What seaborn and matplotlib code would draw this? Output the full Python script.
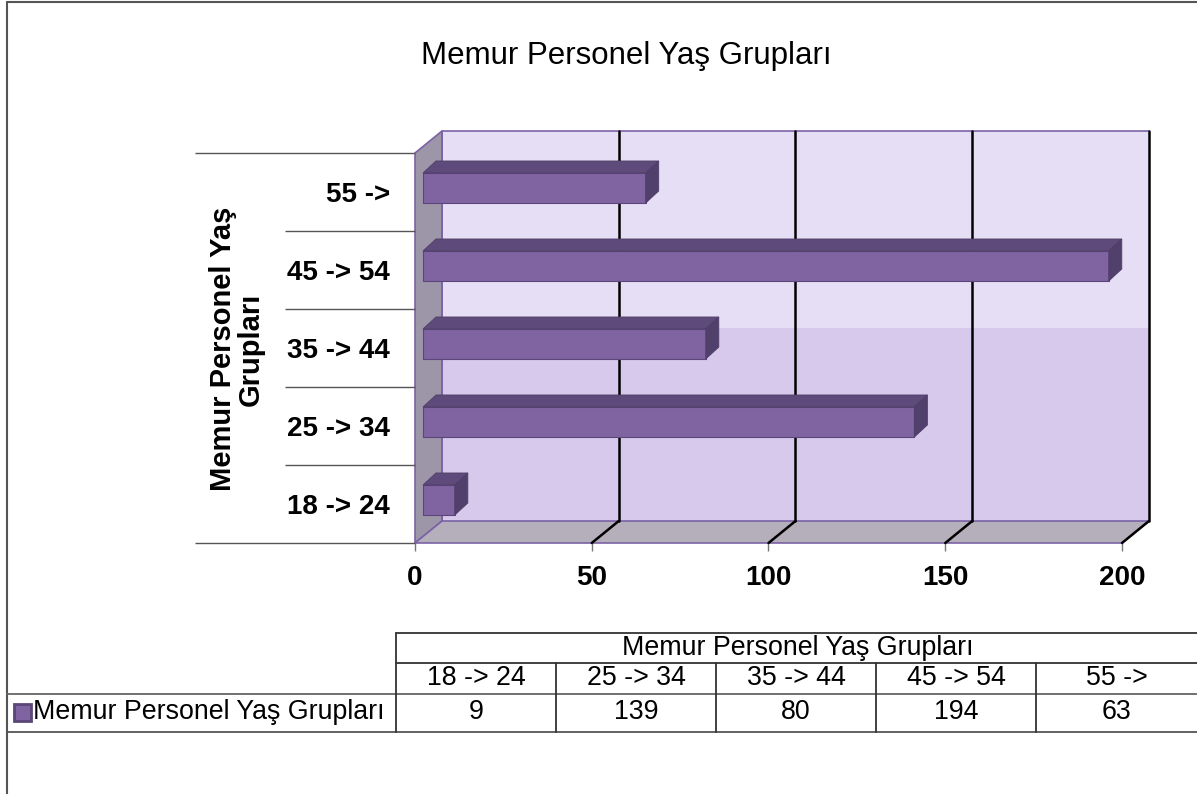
import numpy as np
import pandas as pd
import matplotlib
matplotlib.use("Agg")
import matplotlib.pyplot as plt
from matplotlib.patches import Polygon, Rectangle
from matplotlib.lines import Line2D
import seaborn as sns

## data
groups = ["18 -> 24", "25 -> 34", "35 -> 44", "45 -> 54", "55 ->"]
counts = [9, 139, 80, 194, 63]
series_name = "Memur Personel Yaş Grupları"
x_ticks = [0, 50, 100, 150, 200]

sns.set_style("white")
plt.rcParams["font.family"] = ["Liberation Sans", "DejaVu Sans"]
plt.rcParams["text.color"] = "black"
plt.rcParams["xtick.color"] = "black"
plt.rcParams["ytick.color"] = "black"

W, H = 1197, 794
fig = plt.figure(figsize=(W / 100, H / 100), dpi=100)

def fx(px):
    return px / W

def fy(py):
    return 1 - py / H

## front plane of the 3d box: x 415..1122 px, y 153..543 px
ax = fig.add_axes([fx(415), fy(543), fx(1122) - fx(415), fy(153) - fy(543)])

df = pd.DataFrame({"group": groups, "count": counts})
order = groups[::-1]
sns.barplot(data=df, x="count", y="group", order=order, orient="h",
            width=0.385, color="#8064A2", edgecolor="#5A4678", linewidth=0.8,
            saturation=1, ax=ax, zorder=3)

ax.set_xlim(0, 200)
ax.set_ylim(len(order) - 0.5, -0.5)

## pixel -> data unit helpers
ux = 200 / 707
uy = 1 / 78
DX, DY = 27 * ux, -22 * uy        # depth of the box
ymin, ymax = -0.5, len(order) - 0.5

def poly(pts, fc, ec="none", lw=0, z=0.5):
    ax.add_patch(Polygon(pts, closed=True, facecolor=fc, edgecolor=ec,
                         linewidth=lw, zorder=z, clip_on=False))

## back wall (two shades)
split = 2.02
poly([(DX, ymin + DY), (200 + DX, ymin + DY), (200 + DX, split + DY), (DX, split + DY)], "#E6DEF5")
poly([(DX, split + DY), (200 + DX, split + DY), (200 + DX, ymax + DY), (DX, ymax + DY)], "#D6C9EC")
## left wall
poly([(0, ymax), (0, ymin), (DX, ymin + DY), (DX, ymax + DY)], "#9D95A8", "#7B62A6", 1.2)
## floor
poly([(0, ymax), (200, ymax), (200 + DX, ymax + DY), (DX, ymax + DY)], "#B5AFBC", "#7B62A6", 1.2)
ax.plot([DX, DX, 200 + DX], [ymax + DY, ymin + DY, ymin + DY], color="#7B62A6", lw=1.2,
        zorder=0.6, clip_on=False)

## grid lines on back wall and floor
for t in x_ticks[1:]:
    ax.plot([t + DX, t + DX], [ymin + DY, ymax + DY], color="black", lw=1.8, zorder=0.7, clip_on=False)
    ax.plot([t, t + DX], [ymax, ymax + DY], color="black", lw=1.8, zorder=0.7, clip_on=False)

## 3d look for the bars
bdx, bdy = 8 * ux, -4 * uy
tdx, tdy = 13 * ux, -12 * uy
for p in ax.patches:
    if not isinstance(p, Rectangle):
        continue
    p.set_x(p.get_x() + bdx)
    p.set_y(p.get_y() + bdy)
    x0, x1 = p.get_x(), p.get_x() + p.get_width()
    yt, yb = p.get_y(), p.get_y() + p.get_height()
    poly([(x0, yt), (x1, yt), (x1 + tdx, yt + tdy), (x0 + tdx, yt + tdy)], "#5F4B7B", "#4E3D66", 0.6, 3.1)
    poly([(x1, yt), (x1, yb), (x1 + tdx, yb + tdy), (x1 + tdx, yt + tdy)], "#52406C", "#4E3D66", 0.6, 3.1)

## category separators to the left of the box (outer ones run past the axis title)
bounds = np.arange(len(order) + 1) - 0.5
ax.hlines([bounds[0], bounds[-1]], -220 / 707, 0, transform=ax.get_yaxis_transform(),
          color="#555555", lw=1, clip_on=False, zorder=1)
ax.hlines(bounds[1:-1], -130 / 707, 0, transform=ax.get_yaxis_transform(),
          color="#555555", lw=1, clip_on=False, zorder=1)

for s in ax.spines.values():
    s.set_visible(False)
ax.set_xticks(x_ticks)
ax.set_xticklabels([str(t) for t in x_ticks], fontsize=20, fontweight="bold")
ax.tick_params(axis="x", length=6, width=1, color="#777777", labelcolor="black", pad=10, bottom=True)
ax.tick_params(axis="y", length=0, pad=18, labelcolor="black")
for lab in ax.get_yticklabels():
    lab.set_fontsize(20)
    lab.set_fontweight("bold")
ax.set_xlabel("")
ax.set_ylabel("")

fig.text(fx(626), fy(56), series_name, fontsize=22.5, ha="center", va="center")
fig.text(fx(237), fy(349), "Memur Personel Yaş\nGrupları", rotation=90, fontsize=21,
         fontweight="bold", ha="center", va="center", linespacing=1.0)

## outer border
fig.add_artist(Line2D([fx(7), fx(7)], [fy(2), fy(794)], color="#555555", lw=1.5))
fig.add_artist(Line2D([fx(7), fx(1197)], [fy(2), fy(2)], color="#555555", lw=1.5))

## data table
col_edges = [396, 556, 716, 876, 1036, 1197]
def hline(y, x0, x1, c="#333333"):
    fig.add_artist(Line2D([fx(x0), fx(x1)], [fy(y), fy(y)], color=c, lw=1.3))
def vline(x, y0, y1, c="#333333"):
    fig.add_artist(Line2D([fx(x), fx(x)], [fy(y0), fy(y1)], color=c, lw=1.3))

hline(633, 396, 1197)
hline(663, 396, 1197)
hline(694, 7, 1197, "#666666")
hline(732, 7, 1197, "#555555")
vline(396, 633, 732)
for x in col_edges[1:-1]:
    vline(x, 663, 732)

fig.text(fx(798), fy(648), series_name, fontsize=19.3, ha="center", va="center")
for i, g in enumerate(groups):
    cx = (col_edges[i] + col_edges[i + 1]) / 2
    fig.text(fx(cx), fy(678), g, fontsize=19.3, ha="center", va="center")
    fig.text(fx(cx), fy(712), str(counts[i]), fontsize=19.3, ha="center", va="center")

fig.add_artist(Rectangle((fx(14), fy(721)), fx(17), fy(704) - fy(721), facecolor="#8064A2",
                         edgecolor="#5A4678", lw=2))
fig.text(fx(33), fy(712), series_name, fontsize=19.3, ha="left", va="center")

fig.savefig("out.png", dpi=100)
